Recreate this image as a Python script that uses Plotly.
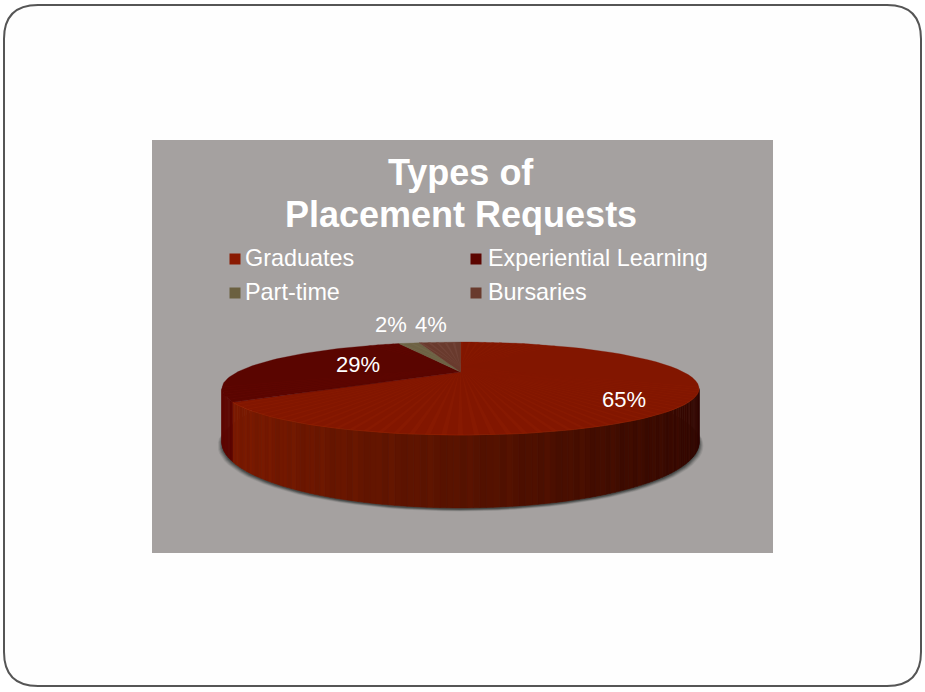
import math
import plotly.graph_objects as go

# ---- data ----
categories = ["Graduates", "Experiential Learning", "Part-time", "Bursaries"]
values = [65, 29, 2, 4]
title_lines = ["Types of", "Placement Requests"]

# ---- styles ----
top_a = ["#821600", "#5a0500", "#6d6244", "#693a2d"]
top_b = ["#8a1b02", "#620803", "#756a4c", "#74463a"]
swatch = ["#8a1a02", "#5c0500", "#6b6040", "#693a2d"]
side_dark_red = "#5e0600"
side_stops = [(110, (46, 6, 0)), (150, (64, 12, 0)), (180, (88, 19, 0)),
              (220, (118, 25, 0)), (250, (128, 27, 0))]
text_color = "#ffffff"
panel_color = "#a5a1a0"
font = "Liberation Sans"

# ---- projection of the disc (perspective seen from the front) ----
CX, CY0, A, C, D, H = 460.5, 372.0, -91.4, -0.355, 223.0, 47.0


def proj(theta, r=1.0, drop=0.0):
    t = math.radians(theta)
    u, v = r * math.sin(t), -r * math.cos(t)
    w = 1 + C * v
    return CX + D * u / w, (A * v + CY0) / w + drop / w


fig = go.Figure()


def poly(xs, ys, color, opacity=1.0, seam=0.6):
    fig.add_trace(go.Scatter(x=xs, y=ys, mode="lines", fill="toself", fillcolor=color,
                             line=dict(color=color, width=seam), opacity=opacity,
                             hoverinfo="skip", showlegend=False))


# soft shadow under the disc: same ring, nudged down and slightly wider
angles = [i * 3 for i in range(121)]
for sx, dy, op in [(1.018, 3.5, 0.10), (1.014, 3.0, 0.16), (1.010, 2.5, 0.22), (1.006, 2.0, 0.30), (1.002, 1.5, 0.40)]:
    pts = [proj(a, 1, H) for a in angles]
    poly([CX + (p[0] - CX) * sx for p in pts], [p[1] + dy for p in pts], "#2c3230", op, 0)


def side_color(theta, i):
    for (a0, c0), (a1, c1) in zip(side_stops, side_stops[1:]):
        if a0 <= theta <= a1:
            f = (theta - a0) / (a1 - a0)
            c = [c0[k] + f * (c1[k] - c0[k]) for k in range(3)]
            bump = [0, 4, -2, 2, 0, -3][i % 6]
            return "rgb(%d,%d,%d)" % (min(255, max(0, c[0] + bump)), max(0, c[1] + bump / 3), 0)
    return "rgb(128,27,0)"


# slice boundaries, clockwise from twelve o'clock
edges = [0.0]
for val in values:
    edges.append(edges[-1] + 360.0 * val / sum(values))

# outer wall, visible between the silhouette tangents
T0, T1 = 110.8, 249.2
step = 1.1
n = int((T1 - T0) / step) + 1
for i in range(n):
    a0 = T0 + i * step
    a1 = min(T1, a0 + step)
    mid = (a0 + a1) / 2
    color = side_color(mid, i) if mid < edges[1] else side_dark_red
    p = [proj(a0), proj(a1), proj(a1, 1, H), proj(a0, 1, H)]
    poly([q[0] for q in p] + [p[0][0]], [q[1] for q in p] + [p[0][1]], color)

# top face: base wedge plus thin radial stripes per slice
for k in range(len(values)):
    start, end = edges[k], edges[k + 1]
    arc = [start + q * (end - start) / 60 for q in range(61)]
    pts = [proj(0, 0)] + [proj(a) for a in arc] + [proj(0, 0)]
    poly([q[0] for q in pts], [q[1] for q in pts], top_a[k], 1.0, 0.3)
    m = max(2, int((end - start) / 2.7))
    xs, ys = [], []
    for j in range(m):
        a0 = start + j * (end - start) / m
        a1 = a0 + (end - start) / m / 3
        pts = [proj(0, 0.12), proj(a0), proj(a1), proj(0, 0.12)]
        xs += [q[0] for q in pts] + [None]
        ys += [q[1] for q in pts] + [None]
    poly(xs, ys, top_b[k], 0.7, 0)

# slightly brighter rim along the front edge of the large slice
rim = [proj(T0 + i * (edges[1] - T0) / 60) for i in range(61)]
fig.add_trace(go.Scatter(x=[q[0] for q in rim], y=[q[1] for q in rim], mode="lines",
                         line=dict(color="#9a2400", width=1), opacity=0.55,
                         hoverinfo="skip", showlegend=False))

# percentage labels
label_x = [624, 358, 391, 431]
label_y = [401, 366, 326, 326]
fig.add_trace(go.Scatter(x=label_x, y=label_y, mode="text",
                         text=[f"{v}%" for v in values],
                         textfont=dict(family=font, size=22, color=text_color),
                         hoverinfo="skip", showlegend=False))

# legend entries
swatch_x = [235, 476, 235, 476]
swatch_y = [259, 259, 293, 293]
legend_x = [245, 488, 245, 488]
legend_y = [260, 260, 294, 294]
fig.add_trace(go.Scatter(x=swatch_x, y=swatch_y, mode="markers",
                         marker=dict(symbol="square", size=11, color=swatch),
                         hoverinfo="skip", showlegend=False))
fig.add_trace(go.Scatter(x=legend_x, y=legend_y, mode="text", text=categories,
                         textposition="middle right", cliponaxis=False,
                         textfont=dict(family=font, size=23.4, color=text_color),
                         hoverinfo="skip", showlegend=False))

# title
title_y = [172, 214]
for line, ty in zip(title_lines, title_y):
    fig.add_annotation(x=461, y=ty, xref="x", yref="y", showarrow=False,
                       text=f"<b>{line}</b>",
                       font=dict(family=font, size=36, color=text_color), align="center")

x0, y0, x1, y1, r = 4, 5, 921, 686, 34
frame = (f"M{x0+r},{y0} L{x1-r},{y0} Q{x1},{y0} {x1},{y0+r} L{x1},{y1-r} Q{x1},{y1} {x1-r},{y1} "
         f"L{x0+r},{y1} Q{x0},{y1} {x0},{y1-r} L{x0},{y0+r} Q{x0},{y0} {x0+r},{y0} Z")

fig.update_layout(
    width=925, height=692, margin=dict(l=0, r=0, t=0, b=0),
    paper_bgcolor="#ffffff", plot_bgcolor="#ffffff", showlegend=False,
    xaxis=dict(range=[0, 925], visible=False, fixedrange=True),
    yaxis=dict(range=[692, 0], visible=False, fixedrange=True),
    shapes=[
        dict(type="path", path=frame, line=dict(color="#555555", width=2), fillcolor="#fefefe", layer="below"),
        dict(type="rect", x0=152, x1=773, y0=140, y1=553, line=dict(width=0), fillcolor=panel_color, layer="below"),
    ],
)

fig.write_html("out.html", config={"displayModeBar": False},
               post_script="document.body.style.margin='0';document.body.style.overflow='hidden';")
